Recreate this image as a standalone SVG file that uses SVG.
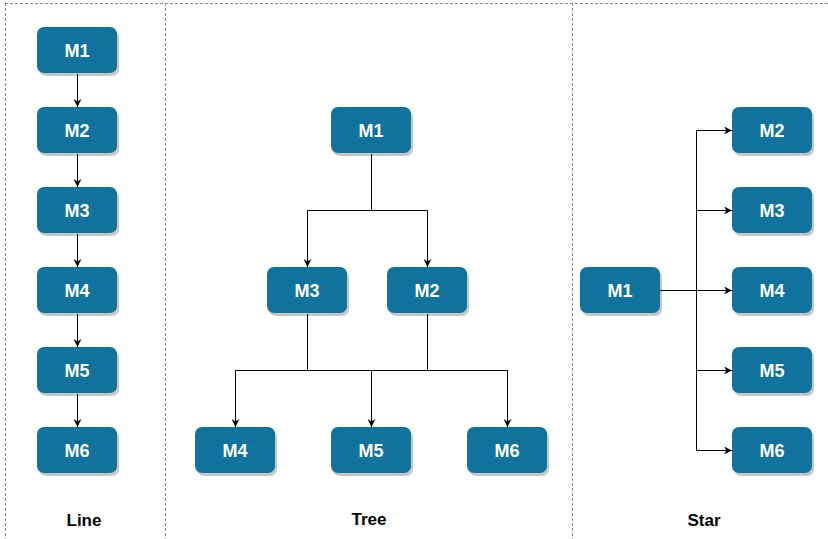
<svg xmlns="http://www.w3.org/2000/svg" width="828" height="539" viewBox="0 0 828 539">
<style>
.frame{stroke:#8a8a8a;stroke-width:1;stroke-dasharray:3 2;fill:none}
.box{fill:#10739E}
.sh{fill:#000;opacity:0.22}
.lbl{font-family:"Liberation Sans",Arial,sans-serif;font-weight:bold;font-size:18px;fill:#fff;text-anchor:middle}
.title{font-family:"Liberation Sans",Arial,sans-serif;font-weight:bold;font-size:17px;fill:#000;text-anchor:middle}
.edge{stroke:#000;stroke-width:1;fill:none;marker-end:url(#arr)}
.seg{stroke:#000;stroke-width:1;fill:none}
</style>
<defs>
<marker id="arr" viewBox="0 0 10 10" refX="10" refY="5" markerWidth="8" markerHeight="8" markerUnits="userSpaceOnUse" orient="auto">
<path d="M0,0 L10,5 L0,10 L3,5 Z" fill="#000"/>
</marker>
<g id="nodebox">
<rect class="sh" x="2" y="3" width="80" height="46" rx="7"/>
<rect class="box" x="0" y="0" width="80" height="46" rx="7"/>
</g>
</defs>
<rect x="0" y="0" width="828" height="539" fill="#fff"/>
<g id="frames">
<line class="frame" x1="5" y1="3.5" x2="828" y2="3.5"/>
<line class="frame" x1="5.5" y1="3" x2="5.5" y2="539"/>
<line class="frame" x1="165.5" y1="3" x2="165.5" y2="539"/>
<line class="frame" x1="572.5" y1="3" x2="572.5" y2="539"/>
</g>
<g id="titles">
<text class="title" x="84" y="526">Line</text>
<text class="title" x="369" y="525">Tree</text>
<text class="title" x="704" y="526">Star</text>
</g>
<g id="connectors">
<path class="edge" d="M77.5,74 V107"/>
<path class="edge" d="M77.5,154 V187"/>
<path class="edge" d="M77.5,234 V267"/>
<path class="edge" d="M77.5,314 V347"/>
<path class="edge" d="M77.5,394 V427"/>
<path class="seg" d="M371.5,154 V210.5"/>
<path class="edge" d="M371.5,210.5 H307.5 V267"/>
<path class="edge" d="M371.5,210.5 H427.5 V267"/>
<path class="seg" d="M307.5,314 V370.5"/>
<path class="seg" d="M427.5,314 V370.5"/>
<path class="edge" d="M307.5,370.5 H235.5 V427"/>
<path class="edge" d="M371.5,370.5 V427"/>
<path class="edge" d="M427.5,370.5 H507.5 V427"/>
<path class="seg" d="M235.5,370.5 H507.5"/>
<path class="edge" d="M660,290.5 H732"/>
<path class="seg" d="M696.5,130.5 V450.5"/>
<path class="edge" d="M696.5,130.5 H732"/>
<path class="edge" d="M696.5,210.5 H732"/>
<path class="edge" d="M696.5,370.5 H732"/>
<path class="edge" d="M696.5,450.5 H732"/>
</g>
<g id="line-m1"><use href="#nodebox" x="37" y="27"/><text class="lbl" x="77" y="57">M1</text></g>
<g id="line-m2"><use href="#nodebox" x="37" y="107"/><text class="lbl" x="77" y="137">M2</text></g>
<g id="line-m3"><use href="#nodebox" x="37" y="187"/><text class="lbl" x="77" y="217">M3</text></g>
<g id="line-m4"><use href="#nodebox" x="37" y="267"/><text class="lbl" x="77" y="297">M4</text></g>
<g id="line-m5"><use href="#nodebox" x="37" y="347"/><text class="lbl" x="77" y="377">M5</text></g>
<g id="line-m6"><use href="#nodebox" x="37" y="427"/><text class="lbl" x="77" y="457">M6</text></g>
<g id="tree-m1"><use href="#nodebox" x="331" y="107"/><text class="lbl" x="371" y="137">M1</text></g>
<g id="tree-m3"><use href="#nodebox" x="267" y="267"/><text class="lbl" x="307" y="297">M3</text></g>
<g id="tree-m2"><use href="#nodebox" x="387" y="267"/><text class="lbl" x="427" y="297">M2</text></g>
<g id="tree-m4"><use href="#nodebox" x="195" y="427"/><text class="lbl" x="235" y="457">M4</text></g>
<g id="tree-m5"><use href="#nodebox" x="331" y="427"/><text class="lbl" x="371" y="457">M5</text></g>
<g id="tree-m6"><use href="#nodebox" x="467" y="427"/><text class="lbl" x="507" y="457">M6</text></g>
<g id="star-m1"><use href="#nodebox" x="580" y="267"/><text class="lbl" x="620" y="297">M1</text></g>
<g id="star-m2"><use href="#nodebox" x="732" y="107"/><text class="lbl" x="772" y="137">M2</text></g>
<g id="star-m3"><use href="#nodebox" x="732" y="187"/><text class="lbl" x="772" y="217">M3</text></g>
<g id="star-m4"><use href="#nodebox" x="732" y="267"/><text class="lbl" x="772" y="297">M4</text></g>
<g id="star-m5"><use href="#nodebox" x="732" y="347"/><text class="lbl" x="772" y="377">M5</text></g>
<g id="star-m6"><use href="#nodebox" x="732" y="427"/><text class="lbl" x="772" y="457">M6</text></g>
</svg>
